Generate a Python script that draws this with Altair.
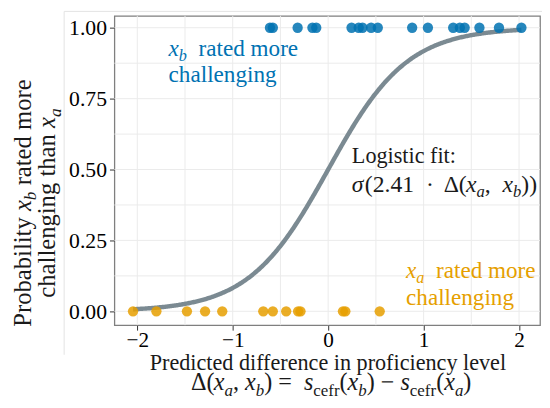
import altair as alt
import pandas as pd

# ---------------- data ----------------
SLOPE = 2.41  # logistic fit coefficient shown in the annotation
# pairs where x_b was rated more challenging (label = 1)
blue_x = [-0.61, -0.58, -0.32, -0.165, -0.125, 0.245, 0.32, 0.36, 0.45, 0.52,
          0.88, 1.045, 1.31, 1.38, 1.43, 1.585, 1.79, 2.025]
# pairs where x_a was rated more challenging (label = 0)
orange_x = [-2.045, -1.80, -1.48, -1.29, -1.11, -0.68, -0.58, -0.44, -0.315,
            -0.29, 0.155, 0.18, 0.54]
x_ticks = [-2, -1, 0, 1, 2]
y_ticks = [0.0, 0.25, 0.5, 0.75, 1.0]

# ---------------- style ----------------
W, H = 432, 314
XDOM = [-2.24, 2.22]
YDOM = [-0.049, 1.042]
BLUE = "#0072B2"
ORANGE = "#E69F00"
CURVE = "#7b8a92"
SERIF = "Liberation Serif"
GRID = "#ebebeb"
INK = "#1a1a1a"

pts = pd.DataFrame({
    "d": blue_x + orange_x,
    "p": [1.0] * len(blue_x) + [0.0] * len(orange_x),
    "g": ["b"] * len(blue_x) + ["a"] * len(orange_x),
})

xs = alt.Scale(domain=XDOM, nice=False, zero=False)
ys = alt.Scale(domain=YDOM, nice=False, zero=False)
AXX = alt.Axis(values=x_ticks, format="d", grid=False, domain=False, title=None,
               tickColor="#333333", tickSize=5, labelFont=SERIF, labelFontSize=21.5,
               labelColor="#000000", labelPadding=0)
AXY = alt.Axis(values=y_ticks, format=".2f", grid=False, domain=False, title=None,
               tickColor="#333333", tickSize=5, labelFont=SERIF, labelFontSize=22,
               labelColor="#000000", labelPadding=3)

grid_x = alt.Chart(alt.sequence(-2, 2.01, 0.5, as_="gx")).mark_rule(
    color=GRID, strokeWidth=1).encode(x=alt.X("gx:Q", scale=xs, axis=AXX))
grid_y = alt.Chart(alt.sequence(0, 1.01, 0.125, as_="gy")).mark_rule(
    color=GRID, strokeWidth=1).encode(y=alt.Y("gy:Q", scale=ys, axis=AXY))

curve = alt.Chart(alt.sequence(-2.045, 2.035, 0.01, as_="d")).transform_calculate(
    p=f"1/(1+exp(-{SLOPE}*datum.d))"
).mark_line(color=CURVE, strokeWidth=4.5).encode(
    x=alt.X("d:Q", scale=xs, axis=AXX), y=alt.Y("p:Q", scale=ys, axis=AXY))

points = alt.Chart(pts).mark_circle(size=110, opacity=0.85).encode(
    x=alt.X("d:Q", scale=xs, axis=AXX),
    y=alt.Y("p:Q", scale=ys, axis=AXY),
    color=alt.Color("g:N", scale=alt.Scale(domain=["b", "a"], range=[BLUE, ORANGE]),
                    legend=None),
)

# ---------------- text layout (Times/Liberation Serif metrics) ----------------
REG = {' ': 250, '(': 333, ')': 333, ',': 250, '.': 250, ':': 278, '=': 564,
       '\u2212': 564, '\u00b7': 250, '\u0394': 612, '\u03c3': 549,
       'A': 722, 'B': 667, 'C': 667, 'D': 722, 'E': 611, 'L': 611, 'P': 556,
       'a': 444, 'b': 500, 'c': 444, 'd': 500, 'e': 444, 'f': 333, 'g': 500,
       'h': 500, 'i': 278, 'j': 278, 'k': 500, 'l': 278, 'm': 778, 'n': 500,
       'o': 500, 'p': 500, 'q': 500, 'r': 333, 's': 389, 't': 278, 'u': 500,
       'v': 500, 'w': 722, 'x': 500, 'y': 500, 'z': 444}
ITA = {'x': 444, 'a': 500, 'b': 500, 's': 389, '\u03c3': 549}
SUB = 0.7


def tw(s, italic):
    tab = ITA if italic else REG
    return sum(tab.get(c, REG.get(c, 500)) for c in s) / 1000.0


def layout(segs, size, color, x0=None, y0=None, cx=None, cy=None, angle=0):
    rows = []
    info = []
    for text, kind in segs:
        sub = kind.startswith("s")
        it = kind.endswith("i")
        fs = size * SUB if sub else size
        info.append((text, it, fs, sub, tw(text, it) * fs))
    total = sum(i[4] for i in info)
    acc = 0.0
    for text, it, fs, sub, w in info:
        lead = len(text) - len(text.lstrip())
        off = acc + tw(text[:lead], it) * fs
        shift = 0.22 * size if sub else 0.0
        t = text.strip()
        if t:
            if angle == 0:
                start = cx - total / 2 if cx is not None else x0
                rows.append((t, start + off, y0 + shift, fs, it, color, 0))
            else:
                start = cy + total / 2 if cy is not None else y0
                rows.append((t, x0 + shift, start - off, fs, it, color, 270))
        acc += w
    return rows


rows = []
# annotations
rows += layout([("x", "i"), ("b", "si"), ("  rated more", "r")], 23.5, BLUE, x0=55, y0=41)
rows += layout([("challenging", "r")], 23.5, BLUE, x0=55, y0=67)
rows += layout([("Logistic fit:", "r")], 22.5, INK, x0=241, y0=149)
rows += layout([("\u03c3", "i"), ("(2.41  ", "r"), ("\u00b7  ", "r"), ("\u0394(", "r"),
                ("x", "i"), ("a", "si"), (",  ", "r"), ("x", "i"), ("b", "si"),
                ("))", "r")], 24, INK, x0=241, y0=179)
rows += layout([("x", "i"), ("a", "si"), ("  rated more", "r")], 23.5, ORANGE, x0=296, y0=266)
rows += layout([("challenging", "r")], 23.5, ORANGE, x0=296, y0=294)
# x-axis title (two lines)
rows += layout([("Predicted difference in proficiency level", "r")], 22.5, INK,
               cx=W / 2 + 1, y0=359)
rows += layout([("\u0394(", "r"), ("x", "i"), ("a", "si"), (", ", "r"), ("x", "i"),
                ("b", "si"), (") =  ", "r"), ("s", "i"), ("cefr", "sr"), ("(", "r"),
                ("x", "i"), ("b", "si"), (") \u2212 ", "r"), ("s", "i"), ("cefr", "sr"),
                ("(", "r"), ("x", "i"), ("a", "si"), (")", "r")], 24.5, INK,
               cx=W / 2 + 4, y0=380)
# y-axis title (two rotated lines)
rows += layout([("Probability ", "r"), ("x", "i"), ("b", "si"), (" rated more", "r")],
               25, INK, x0=-85, cy=H / 2 + 33, angle=270)
rows += layout([("challenging than ", "r"), ("x", "i"), ("a", "si")],
               25, INK, x0=-60, cy=H / 2 + 33, angle=270)

texts = []
for t, x, y, fs, it, col, ang in rows:
    texts.append(
        alt.Chart(pd.DataFrame({"t": [t]})).mark_text(
            align="left", baseline="alphabetic", font=SERIF, fontSize=fs,
            fontStyle="italic" if it else "normal", color=col, angle=ang
        ).encode(x=alt.value(x), y=alt.value(y), text="t:N")
    )

# faint outer frame lines of the original figure
frame_v = alt.Chart(pd.DataFrame({"k": [0]})).mark_rule(color="#e3e3e3", strokeWidth=1).encode(
    x=alt.value(-51), y=alt.value(-4.5), y2=alt.value(344))
frame_h = alt.Chart(pd.DataFrame({"k": [0]})).mark_rule(color="#e3e3e3", strokeWidth=1).encode(
    x=alt.value(-51), x2=alt.value(436), y=alt.value(-4.5))

chart = alt.layer(grid_x, grid_y, curve, points, frame_v, frame_h, *texts).properties(
    width=W, height=H,
    autosize=alt.AutoSizeParams(type="none"),
    padding={"left": 108, "top": 5, "right": 2, "bottom": 75},
).configure_view(stroke="#7f7f7f", strokeWidth=1.3)

chart.save("out.html", embed_options={"renderer": "svg", "actions": False})
